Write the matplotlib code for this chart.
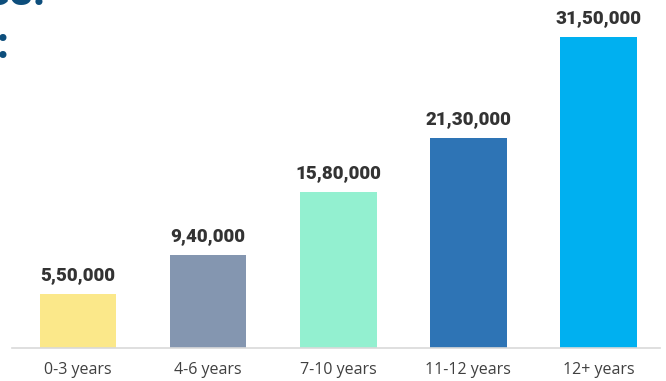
import matplotlib
matplotlib.use("agg")
from matplotlib import pyplot as plt

W, H = 666, 381

categories = ["0-3 years", "4-6 years", "7-10 years", "11-12 years", "12+ years"]
values = [550000, 940000, 1580000, 2130000, 3150000]
value_labels = ["5,50,000", "9,40,000", "15,80,000", "21,30,000", "31,50,000"]
colors = ["#fbe88a", "#8496b0", "#93f0d0", "#2e74b5", "#00b0f0"]

fig = plt.figure(figsize=(W / 100, H / 100), dpi=100)
fig.set_facecolor("white")

# axes: baseline at y=348px, spans x 12..660px
ax = fig.add_axes((12 / W, 33 / H, 648 / W, 348 / H))
x = list(range(len(categories)))
ax.bar(x, values, width=0.59, color=colors, zorder=2)
ax.set_xlim(-0.507, 4.473)
ax.set_ylim(0, 3150000 * 348 / 311)

for xi, v, lab in zip(x, values, value_labels):
    ax.annotate(lab, (xi, v), xytext=(0, 7), textcoords="offset points",
                ha="center", va="bottom", fontsize=13.5, fontweight="heavy",
                family="Roboto", color="#333333")

ax.set_xticks(x)
ax.set_xticklabels(categories, family="Open Sans", fontsize=11.5, color="#404040")
ax.tick_params(axis="x", length=0, pad=10)
ax.set_yticks([])
for side in ["left", "right", "top"]:
    ax.spines[side].set_visible(False)
ax.spines["bottom"].set_color("#d9d9d9")
ax.spines["bottom"].set_linewidth(1.2)

# cropped title fragments at top-left (cut off in the original too)
title_kw = dict(fontsize=32, fontweight="bold", family="Roboto", color="#0d4e7c",
                ha="right", va="baseline")
fig.text(46 / W, 1 - 5 / H, "Fees.", **title_kw)
fig.text(9 / W, 1 - 58 / H, "Fees:", **title_kw)

fig.savefig("out.png", dpi=100)
